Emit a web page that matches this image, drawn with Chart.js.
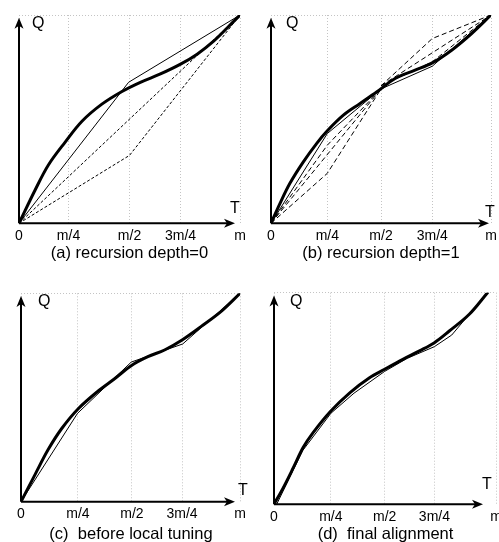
<!DOCTYPE html>
<html>
<head>
<meta charset="utf-8">
<script src="https://cdn.jsdelivr.net/npm/chart.js@4.4.1/dist/chart.umd.min.js"></script>
<style>
  html, body { margin: 0; padding: 0; background: #fff; overflow: hidden; }
  #wrap { position: relative; width: 499px; height: 542px; overflow: hidden; }
  canvas { position: absolute; }
</style>
</head>
<body>
<div id="wrap">
  <canvas id="pa" width="250" height="271" style="left:0;top:0"></canvas>
  <canvas id="pb" width="256" height="271" style="left:250px;top:0"></canvas>
  <canvas id="pc" width="250" height="275" style="left:0;top:271px"></canvas>
  <canvas id="pd" width="256" height="275" style="left:250px;top:271px"></canvas>
</div>
<script>
// tick labels shared by every panel
const tickLabels = ['0', 'm/4', 'm/2', '3m/4', 'm'];

// (a) recursion depth = 0
const ticksA = [0, 0.224, 0.5, 0.731, 1];
const curveAx = [0, 0.073, 0.133, 0.209, 0.285, 0.375, 0.466, 0.549, 0.64, 0.731, 0.806, 0.882, 0.943, 1];
const curveAy = [0, 0.16, 0.28, 0.39, 0.49, 0.572, 0.633, 0.677, 0.717, 0.764, 0.812, 0.876, 0.939, 1];
const chosenAx = [0, 0.496, 1];
const chosenAy = [0, 0.677, 1];
const candA1x = [0, 1];
const candA1y = [0, 1];
const candA2x = [0, 0.5, 1];
const candA2y = [0, 0.326, 1];

// (b) recursion depth = 1
const ticksB = [0, 0.256, 0.5, 0.733, 1];
const curveBx = [0, 0.041, 0.086, 0.147, 0.208, 0.256, 0.329, 0.405, 0.48, 0.564, 0.655, 0.733, 0.821, 0.912, 1];
const curveBy = [0, 0.096, 0.192, 0.295, 0.384, 0.444, 0.519, 0.575, 0.63, 0.695, 0.735, 0.77, 0.831, 0.911, 1];
const chosenBx = [0, 0.256, 0.5, 0.733, 1];
const chosenBy = [0, 0.431, 0.645, 0.754, 1];
const candB1x = [0, 0.256, 0.5];
const candB1y = [0, 0.24, 0.645];
const candB2x = [0, 0.5];
const candB2y = [0, 0.645];
const candB3x = [0, 0.256, 0.5];
const candB3y = [0, 0.375, 0.645];
const candB4x = [0.5, 0.733, 1];
const candB4y = [0.66, 0.887, 1];
const candB5x = [0.5, 1];
const candB5y = [0.66, 1];
const candB6x = [0.5, 0.733, 1];
const candB6y = [0.66, 0.775, 1];

// (c) before local tuning
const ticksC = [0, 0.26, 0.506, 0.735, 1];
const curveCx = [0, 0.064, 0.124, 0.185, 0.26, 0.351, 0.427, 0.506, 0.579, 0.655, 0.735, 0.821, 0.912, 1];
const curveCy = [0, 0.13, 0.25, 0.35, 0.445, 0.53, 0.59, 0.655, 0.696, 0.728, 0.776, 0.84, 0.912, 1];
const chosenCx = [0, 0.258, 0.503, 0.738, 1];
const chosenCy = [0, 0.424, 0.67, 0.757, 1];

// (d) final alignment
const ticksD = [0, 0.256, 0.498, 0.722, 1];
const curveDx = [0, 0.042, 0.087, 0.131, 0.176, 0.256, 0.341, 0.43, 0.498, 0.58, 0.655, 0.722, 0.789, 0.879, 0.961];
const curveDy = [0, 0.079, 0.173, 0.268, 0.339, 0.441, 0.527, 0.598, 0.638, 0.685, 0.725, 0.764, 0.819, 0.898, 1];
const chosenDx = [0.012, 0.13, 0.256, 0.36, 0.498, 0.6, 0.722, 0.8, 0.961];
const chosenDy = [0, 0.255, 0.43, 0.525, 0.628, 0.69, 0.745, 0.8, 1];

const FONT = '"Liberation Sans", Arial, Helvetica, sans-serif';

function pts(xs, ys) {
    return xs.map((x, i) => ({ x: x, y: ys[i] }));
}

function thick(xs, ys) {
    return { data: pts(xs, ys), borderColor: '#000', borderWidth: 3, pointRadius: 0, tension: 0.35, borderCapStyle: 'round' };
}
function thin(xs, ys) {
    return { data: pts(xs, ys), borderColor: '#000', borderWidth: 1, pointRadius: 0 };
}
function dashed(xs, ys, dash) {
    return { data: pts(xs, ys), borderColor: '#000', borderWidth: 1, pointRadius: 0, borderDash: dash };
}

// arrows on the axes plus the Q / T names
const axesPlugin = {
    id: 'arrowAxes',
    afterDatasetsDraw(chart, args, o) {
        const { ctx, chartArea: a } = chart;
        ctx.save();
        ctx.strokeStyle = '#000';
        ctx.fillStyle = '#000';
        ctx.lineWidth = 2;
        const tipX = a.left + o.xTip;
        const tipY = a.top + 2.7;
        ctx.beginPath();
        ctx.moveTo(a.left, a.bottom);
        ctx.lineTo(tipX - 6, a.bottom);
        ctx.moveTo(a.left, a.bottom);
        ctx.lineTo(a.left, tipY + 6);
        ctx.stroke();
        // x arrow head
        ctx.beginPath();
        ctx.moveTo(tipX, a.bottom);
        ctx.lineTo(tipX - 11, a.bottom - 4.5);
        ctx.lineTo(tipX - 8, a.bottom);
        ctx.lineTo(tipX - 11, a.bottom + 4.5);
        ctx.closePath();
        ctx.fill();
        // y arrow head
        ctx.beginPath();
        ctx.moveTo(a.left, tipY);
        ctx.lineTo(a.left - 4.5, tipY + 11);
        ctx.lineTo(a.left, tipY + 8);
        ctx.lineTo(a.left + 4.5, tipY + 11);
        ctx.closePath();
        ctx.fill();
        ctx.font = '16px ' + FONT;
        ctx.textBaseline = 'alphabetic';
        ctx.fillText('Q', a.left + o.qx, a.top + o.qy);
        ctx.fillText('T', a.left + o.tx, a.bottom + o.ty);
        ctx.restore();
    }
};

function makePanel(id, p) {
    return new Chart(document.getElementById(id), {
        type: 'line',
        data: { datasets: p.datasets },
        plugins: [axesPlugin],
        options: {
            responsive: false,
            animation: false,
            layout: { padding: p.pad },
            plugins: {
                legend: { display: false },
                tooltip: { enabled: false },
                title: {
                    display: true, position: 'bottom', text: p.caption, color: '#000',
                    font: { family: FONT, size: 16.5, weight: 'normal' },
                    padding: { top: 0, bottom: p.capPad }
                },
                arrowAxes: p.arrows
            },
            scales: {
                x: {
                    type: 'linear', min: 0, max: 1,
                    afterBuildTicks: s => { s.ticks = p.ticks.map(v => ({ value: v })); },
                    afterFit: s => { s.height = p.xh; },
                    ticks: {
                        autoSkip: false, maxRotation: 0, padding: 4, color: '#000',
                        font: { family: FONT, size: 14 },
                        callback: (v, i) => tickLabels[i]
                    },
                    grid: { color: '#c4c4c4', lineWidth: 1, drawTicks: false },
                    border: { display: false, dash: [1, 2] }
                },
                y: {
                    type: 'linear', min: 0, max: 1,
                    afterBuildTicks: s => { s.ticks = [{ value: 0 }, { value: 1 }]; },
                    afterFit: s => { s.width = 0; },
                    ticks: { display: false },
                    grid: {
                        drawTicks: false, lineWidth: 1,
                        color: c => (c.tick && c.tick.value === 1 ? '#c4c4c4' : 'rgba(0,0,0,0)')
                    },
                    border: { display: false, dash: [1, 2] }
                }
            }
        }
    });
}

makePanel('pa', {
    caption: '(a) recursion depth=0', ticks: ticksA,
    pad: { left: 19, right: 10, top: 15, bottom: 0 }, xh: 19.8, capPad: 8.1,
    arrows: { xTip: 216, qx: 13, qy: 13, tx: 211, ty: -10 },
    datasets: [
        thick(curveAx, curveAy),
        thin(chosenAx, chosenAy),
        dashed(candA1x, candA1y, [3, 2]),
        dashed(candA2x, candA2y, [3, 2])
    ]
});

makePanel('pb', {
    caption: '(b) recursion depth=1', ticks: ticksB,
    pad: { left: 21, right: 15, top: 15, bottom: 0 }, xh: 19.8, capPad: 8.1,
    arrows: { xTip: 218, qx: 15, qy: 13, tx: 214, ty: -6.6 },
    datasets: [
        thick(curveBx, curveBy),
        thin(chosenBx, chosenBy),
        dashed(candB1x, candB1y, [5, 3]),
        dashed(candB2x, candB2y, [5, 3]),
        dashed(candB3x, candB3y, [5, 3]),
        dashed(candB4x, candB4y, [5, 3]),
        dashed(candB5x, candB5y, [5, 3]),
        dashed(candB6x, candB6y, [5, 3])
    ]
});

makePanel('pc', {
    caption: '(c)  before local tuning', ticks: ticksC,
    pad: { left: 21, right: 9, top: 22.3, bottom: 0 }, xh: 22.4, capPad: 2.1,
    arrows: { xTip: 214, qx: 17, qy: 13, tx: 217, ty: -6.7 },
    datasets: [
        thick(curveCx, curveCy),
        thin(chosenCx, chosenCy)
    ]
});

makePanel('pd', {
    caption: '(d)  final alignment', ticks: ticksD,
    pad: { left: 24, right: 9, top: 21.7, bottom: 0 }, xh: 19.8, capPad: 2.1,
    arrows: { xTip: 209, qx: 16, qy: 13, tx: 208, ty: -15 },
    datasets: [
        thick(curveDx, curveDy),
        thin(chosenDx, chosenDy)
    ]
});
</script>
</body>
</html>
